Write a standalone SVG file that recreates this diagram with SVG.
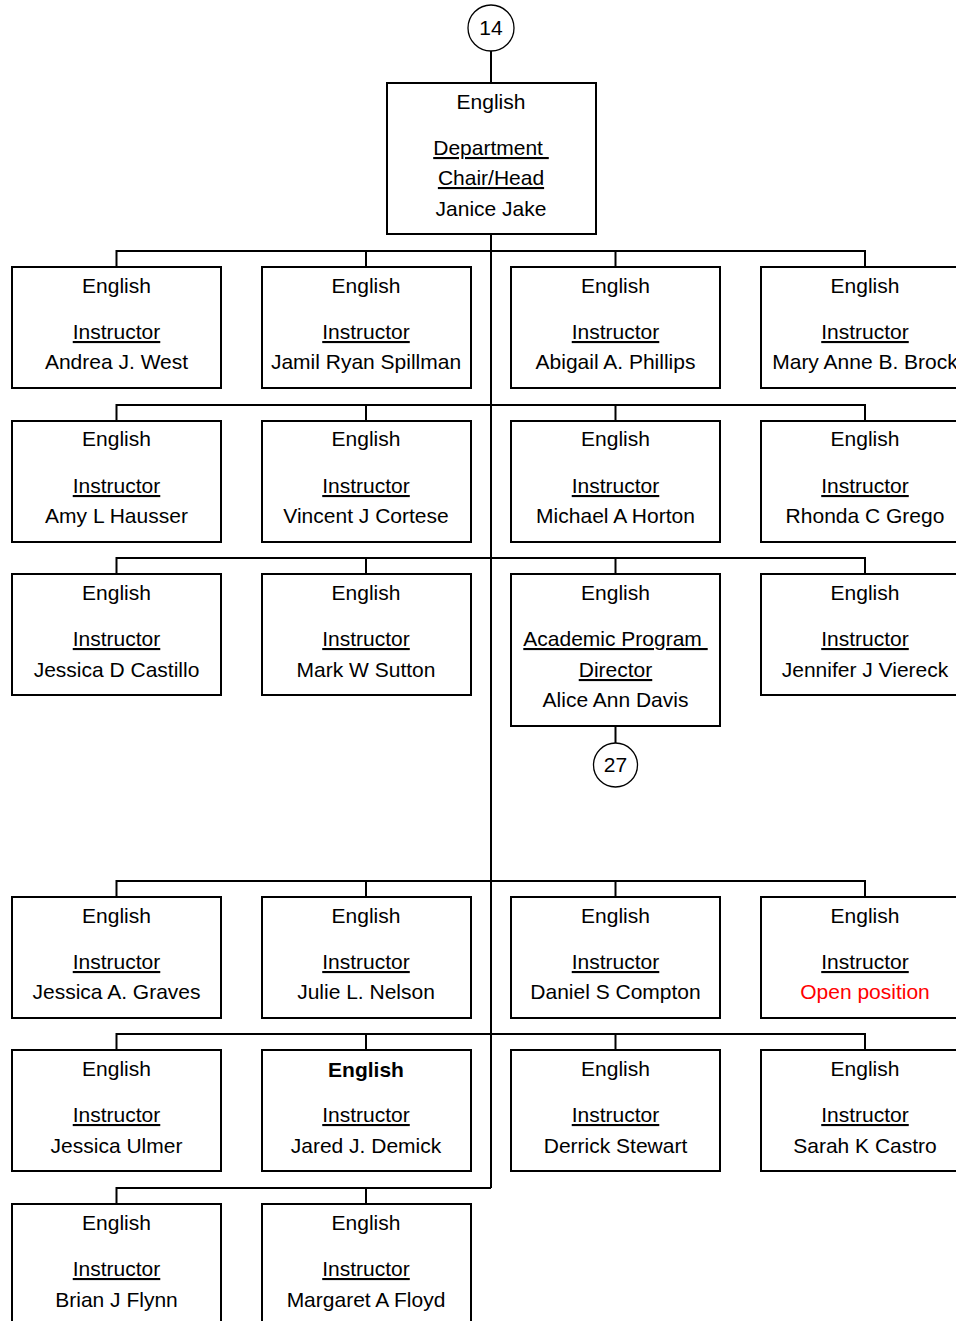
<svg xmlns="http://www.w3.org/2000/svg" width="956" height="1321" viewBox="0 0 956 1321">
<style>
.b{fill:#fff;stroke:#000;stroke-width:2}
.c{fill:#fff;stroke:#000;stroke-width:1.3}
text{font-family:"Liberation Sans",Arial,sans-serif;font-size:21px;fill:#000;text-anchor:middle}
.u{text-decoration:underline}
.bold{font-weight:bold}
.red{fill:#ff0000}
.ln{stroke:#000;stroke-width:2;fill:none}
</style>
<rect width="956" height="1321" fill="#fff"/>
<g id="connectors" class="ln">
<line x1="491" y1="51" x2="491" y2="83"/>
<line x1="491" y1="234" x2="491" y2="1188"/>
<path d="M116.5 267V251H865V267M366 251V267M615.5 251V267"/>
<path d="M116.5 421V405H865V421M366 405V421M615.5 405V421"/>
<path d="M116.5 574V558H865V574M366 558V574M615.5 558V574"/>
<line x1="615.5" y1="726" x2="615.5" y2="743"/>
<path d="M116.5 897V881H865V897M366 881V897M615.5 881V897"/>
<path d="M116.5 1050V1034H865V1050M366 1034V1050M615.5 1034V1050"/>
<path d="M116.5 1204V1188H491M366 1188V1204"/>
</g>
<g id="c14"><circle class="c" cx="491" cy="28" r="23"/><text x="491" y="35">14</text></g>
<g id="chair"><rect class="b" x="387" y="83" width="209" height="151"/>
<text x="491" y="109">English</text><text class="u" x="491" y="155">Department&#160;</text><text class="u" x="491" y="185">Chair/Head</text><text x="491" y="216">Janice Jake</text></g>

<g id="n1"><rect class="b" x="12" y="267" width="209" height="121"/><text x="116.5" y="293">English</text><text class="u" x="116.5" y="339">Instructor</text><text x="116.5" y="369">Andrea J. West</text></g>
<g id="n2"><rect class="b" x="262" y="267" width="209" height="121"/><text x="366" y="293">English</text><text class="u" x="366" y="339">Instructor</text><text x="366" y="369">Jamil Ryan Spillman</text></g>
<g id="n3"><rect class="b" x="511" y="267" width="209" height="121"/><text x="615.5" y="293">English</text><text class="u" x="615.5" y="339">Instructor</text><text x="615.5" y="369">Abigail A. Phillips</text></g>
<g id="n4"><rect class="b" x="761" y="267" width="209" height="121"/><text x="865" y="293">English</text><text class="u" x="865" y="339">Instructor</text><text x="865" y="369">Mary Anne B. Brock</text></g>

<g id="n5"><rect class="b" x="12" y="421" width="209" height="121"/><text x="116.5" y="446">English</text><text class="u" x="116.5" y="493">Instructor</text><text x="116.5" y="523">Amy L Hausser</text></g>
<g id="n6"><rect class="b" x="262" y="421" width="209" height="121"/><text x="366" y="446">English</text><text class="u" x="366" y="493">Instructor</text><text x="366" y="523">Vincent J Cortese</text></g>
<g id="n7"><rect class="b" x="511" y="421" width="209" height="121"/><text x="615.5" y="446">English</text><text class="u" x="615.5" y="493">Instructor</text><text x="615.5" y="523">Michael A Horton</text></g>
<g id="n8"><rect class="b" x="761" y="421" width="209" height="121"/><text x="865" y="446">English</text><text class="u" x="865" y="493">Instructor</text><text x="865" y="523">Rhonda C Grego</text></g>

<g id="n9"><rect class="b" x="12" y="574" width="209" height="121"/><text x="116.5" y="600">English</text><text class="u" x="116.5" y="646">Instructor</text><text x="116.5" y="677">Jessica D Castillo</text></g>
<g id="n10"><rect class="b" x="262" y="574" width="209" height="121"/><text x="366" y="600">English</text><text class="u" x="366" y="646">Instructor</text><text x="366" y="677">Mark W Sutton</text></g>
<g id="n11"><rect class="b" x="511" y="574" width="209" height="152"/><text x="615.5" y="600">English</text><text class="u" x="615.5" y="646">Academic Program&#160;</text><text class="u" x="615.5" y="677">Director</text><text x="615.5" y="707">Alice Ann Davis</text></g>
<g id="n12"><rect class="b" x="761" y="574" width="209" height="121"/><text x="865" y="600">English</text><text class="u" x="865" y="646">Instructor</text><text x="865" y="677">Jennifer J Viereck</text></g>
<g id="c27"><circle class="c" cx="615.5" cy="765" r="22"/><text x="615.5" y="772">27</text></g>

<g id="n13"><rect class="b" x="12" y="897" width="209" height="121"/><text x="116.5" y="923">English</text><text class="u" x="116.5" y="969">Instructor</text><text x="116.5" y="999">Jessica A. Graves</text></g>
<g id="n14"><rect class="b" x="262" y="897" width="209" height="121"/><text x="366" y="923">English</text><text class="u" x="366" y="969">Instructor</text><text x="366" y="999">Julie L. Nelson</text></g>
<g id="n15"><rect class="b" x="511" y="897" width="209" height="121"/><text x="615.5" y="923">English</text><text class="u" x="615.5" y="969">Instructor</text><text x="615.5" y="999">Daniel S Compton</text></g>
<g id="n16"><rect class="b" x="761" y="897" width="209" height="121"/><text x="865" y="923">English</text><text class="u" x="865" y="969">Instructor</text><text class="red" x="865" y="999">Open position</text></g>

<g id="n17"><rect class="b" x="12" y="1050" width="209" height="121"/><text x="116.5" y="1076">English</text><text class="u" x="116.5" y="1122">Instructor</text><text x="116.5" y="1153">Jessica Ulmer</text></g>
<g id="n18"><rect class="b" x="262" y="1050" width="209" height="121"/><text class="bold" x="366" y="1077">English</text><text class="u" x="366" y="1122">Instructor</text><text x="366" y="1153">Jared J. Demick</text></g>
<g id="n19"><rect class="b" x="511" y="1050" width="209" height="121"/><text x="615.5" y="1076">English</text><text class="u" x="615.5" y="1122">Instructor</text><text x="615.5" y="1153">Derrick Stewart</text></g>
<g id="n20"><rect class="b" x="761" y="1050" width="209" height="121"/><text x="865" y="1076">English</text><text class="u" x="865" y="1122">Instructor</text><text x="865" y="1153">Sarah K Castro</text></g>

<g id="n21"><rect class="b" x="12" y="1204" width="209" height="125"/><text x="116.5" y="1230">English</text><text class="u" x="116.5" y="1276">Instructor</text><text x="116.5" y="1307">Brian J Flynn</text></g>
<g id="n22"><rect class="b" x="262" y="1204" width="209" height="125"/><text x="366" y="1230">English</text><text class="u" x="366" y="1276">Instructor</text><text x="366" y="1307">Margaret A Floyd</text></g>
</svg>
